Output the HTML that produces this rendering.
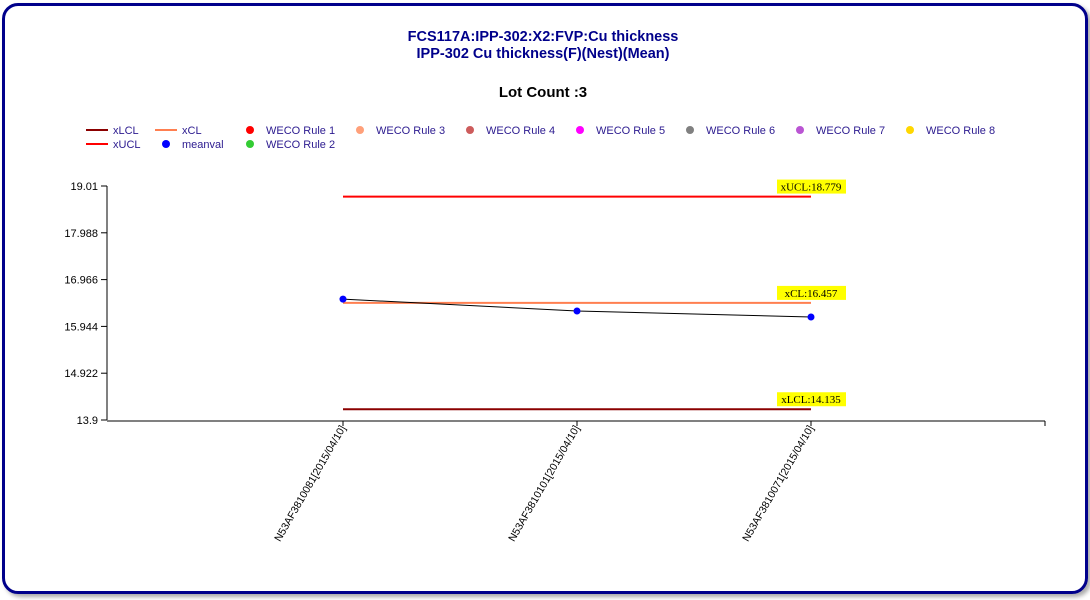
<!DOCTYPE html>
<html><head><meta charset="utf-8"><style>
html,body{margin:0;padding:0;background:#fff;}
body{width:1090px;height:600px;overflow:hidden;position:relative;font-family:"Liberation Sans",sans-serif;}
.frame{position:absolute;left:2px;top:3px;width:1080px;height:585px;border:3px solid #00008b;border-radius:16px;box-shadow:3px 3px 4px #aaa;}
</style></head><body>
<div class="frame"></div>
<svg id="c" width="1090" height="600" style="position:absolute;left:0;top:0">
<text x="543" y="41" text-anchor="middle" font-size="14.5" font-weight="bold" fill="#00008b" font-family="Liberation Sans, sans-serif">FCS117A:IPP-302:X2:FVP:Cu thickness</text>
<text x="543" y="58" text-anchor="middle" font-size="14.5" font-weight="bold" fill="#00008b" font-family="Liberation Sans, sans-serif">IPP-302 Cu thickness(F)(Nest)(Mean)</text>
<text x="543" y="97" text-anchor="middle" font-size="15" font-weight="bold" fill="#000" font-family="Liberation Sans, sans-serif">Lot Count :3</text>
<g id="legend" font-size="11" fill="#2b1a8f" font-family="Liberation Sans, sans-serif"></g>
<g id="plot"></g>
</svg>
<script>
const categories=["N53AF3810081[2015/04/10]","N53AF3810101[2015/04/10]","N53AF3810071[2015/04/10]"];
const meanval=[16.54,16.28,16.15];
const limitNames=["xUCL","xCL","xLCL"];
const limitValues=[18.779,16.457,14.135];
const yTicks=[19.01,17.988,16.966,15.944,14.922,13.9];
const NS="http://www.w3.org/2000/svg";
const plotG=document.getElementById('plot');
function mk(tag,attrs,parent){const e=document.createElementNS(NS,tag);for(const k in attrs)e.setAttribute(k,attrs[k]);(parent||plotG).appendChild(e);return e;}
const yMin=13.9,yMax=19.01,plotTop=186,plotBot=420;
function y(v){return plotBot-(v-yMin)/(yMax-yMin)*(plotBot-plotTop);}
function x(i){return 343+i*234;}
let a=mk('line',{x1:107,y1:plotTop,x2:107,y2:plotBot,stroke:'#000','stroke-width':1});


a=mk('line',{x1:107,y1:plotBot+1,x2:1045,y2:plotBot+1,stroke:'#000','stroke-width':1});


mk('line',{x1:1045,y1:plotBot+1,x2:1045,y2:plotBot+6,stroke:'#000'});
yTicks.forEach(t=>{
  mk('line',{x1:101,y1:y(t),x2:107,y2:y(t),stroke:'#000'});
  const tx=mk('text',{x:98,y:y(t)+4,'text-anchor':'end','font-size':11,fill:'#000','font-family':'Liberation Sans, sans-serif'});
  tx.textContent=t;
  
  
});
categories.forEach((c,i)=>{
  mk('line',{x1:x(i),y1:plotBot+1,x2:x(i),y2:plotBot+6,stroke:'#000'});
  const tx=mk('text',{x:x(i)+3,y:plotBot+8,'text-anchor':'end','font-size':10.5,fill:'#000','font-family':'Liberation Sans, sans-serif',transform:`rotate(-60 ${x(i)+3} ${plotBot+8})`});
  tx.textContent=c;
  
  
});
const limColors=['#ff0000','#ff7f50','#8b0000'];
limitNames.forEach((n,i)=>{
  const yy=y(limitValues[i]);
  const l=mk('line',{x1:x(0),y1:yy,x2:x(categories.length-1),y2:yy,stroke:limColors[i],'stroke-width':2});
  
  
  const r=mk('rect',{x:777,y:yy-17,width:69,height:14,fill:'#ffff00'});
  
  
  const t=mk('text',{x:811,y:yy-6,'text-anchor':'middle','font-size':11,fill:'#000','font-family':'Liberation Serif, serif'});
  t.textContent=n+':'+limitValues[i];
  
  
});
const pl=mk('polyline',{points:meanval.map((v,i)=>x(i)+','+y(v)).join(' '),fill:'none',stroke:'#000','stroke-width':1});


meanval.forEach((v,i)=>{
  const c=mk('circle',{cx:x(i),cy:y(v),r:3.5,fill:'#0000ff'});
  
  
});
const lg=document.getElementById('legend');
const items=[
 ['line','#8b0000','xLCL',86,131],['line','#ff0000','xUCL',86,145],
 ['line','#ff7f50','xCL',155,131],['dot','#0000ff','meanval',166,145],
 ['dot','#ff0000','WECO Rule 1',250,131],['dot','#33cc33','WECO Rule 2',250,145],
 ['dot','#ffa07a','WECO Rule 3',360,131],['dot','#cd5c5c','WECO Rule 4',470,131],
 ['dot','#ff00ff','WECO Rule 5',580,131],['dot','#808080','WECO Rule 6',690,131],
 ['dot','#ba55d3','WECO Rule 7',800,131],['dot','#ffd700','WECO Rule 8',910,131]];
items.forEach(it=>{
  const g=mk('g',{},lg);
  
  
  let tx;
  if(it[0]==='line'){mk('line',{x1:it[3],y1:it[4]-1,x2:it[3]+22,y2:it[4]-1,stroke:it[1],'stroke-width':2},g);tx=it[3]+27;}
  else{mk('circle',{cx:it[3],cy:it[4]-1,r:4,fill:it[1]},g);tx=it[3]+16;}
  const t=mk('text',{x:tx,y:it[4]+3},g);t.textContent=it[2];
});
</script>
</body></html>
